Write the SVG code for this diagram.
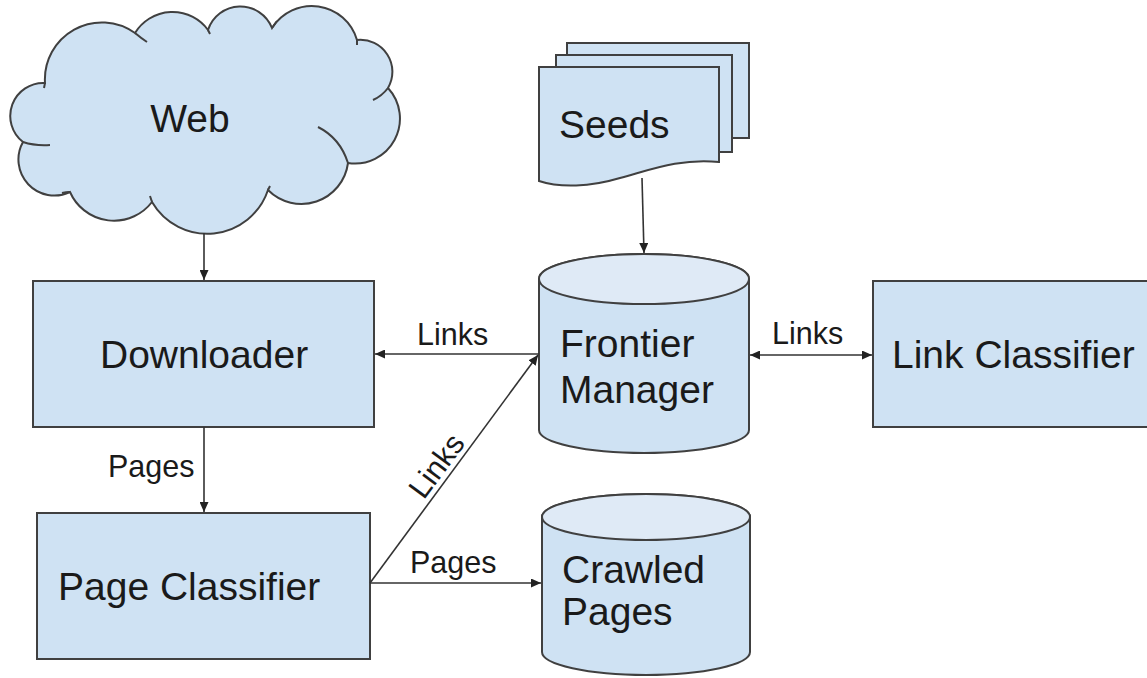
<svg xmlns="http://www.w3.org/2000/svg" width="1147" height="678" viewBox="0 0 1147 678">
<style>
.node{fill:#cfe2f3;stroke:#404040;stroke-width:2}
.cap{fill:#dfeaf6;stroke:#404040;stroke-width:2}
.stub{fill:none;stroke:#404040;stroke-width:2}
.big{font-family:"Liberation Sans",Arial,sans-serif;font-size:39px;fill:#1a1a1a}
.lbl{font-family:"Liberation Sans",Arial,sans-serif;font-size:30.5px;fill:#1a1a1a}
.conn{fill:none;stroke:#333;stroke-width:1.6}
</style>
<defs>
<marker id="arr" markerUnits="userSpaceOnUse" markerWidth="10" markerHeight="9" refX="10" refY="4.5" orient="auto-start-reverse">
<path d="M0,0 L10,4.5 L0,9 z" fill="#222"/>
</marker>
</defs>
<rect width="1147" height="678" fill="#fff"/>

<g id="web">
<path class="node" d="M45,83 A57,57 0 0 1 135,33 A44,44 0 0 1 208,30 A34,34 0 0 1 272,28 A47,47 0 0 1 357,40 A32,32 0 0 1 388,88 A45,45 0 0 1 348,163 A47,47 0 0 1 268,190 A64,64 0 0 1 152,202 A48,48 0 0 1 70,192 A36,36 0 0 1 23,142 A33,33 0 0 1 45,83 Z"/>
<path class="stub" d="M135,33 Q141,38 147,42 M208,30 L210,34 M272,28 Q274,25 277,21 M357,40 L357,45 M388,88 Q382,96 373,100 M348,163 Q340,138 318,127 M268,190 L270,186 M152,202 Q151,199 150,196 M70,192 Q66,192 62,193 M23,142 Q35,146 50,145 M45,83 L44,88"/>
<text class="big" x="190" y="132" text-anchor="middle" font-size="47">Web</text>
</g>

<g id="seeds">
<rect class="node" x="567" y="43" width="182" height="95"/>
<rect class="node" x="556" y="55" width="176" height="97"/>
<path class="node" d="M539,67 H719 V162 C680,158 650,170 620,178 C590,187 560,188 539,181 Z"/>
<text class="big" x="559" y="138">Seeds</text>
</g>

<g id="frontier">
<path class="node" d="M539,279 A105,25 0 0 1 749,279 V430 A105,23 0 0 1 539,430 Z"/>
<ellipse class="cap" cx="644" cy="279" rx="105" ry="25"/>
<text class="big" x="560" y="357">Frontier</text>
<text class="big" x="560" y="403">Manager</text>
</g>

<g id="downloader">
<rect class="node" x="33" y="281" width="341" height="146"/>
<text class="big" x="100" y="368">Downloader</text>
</g>

<g id="link-classifier">
<rect class="node" x="873" y="281" width="290" height="146"/>
<text class="big" x="892" y="368" font-size="36.5">Link Classifier</text>
</g>

<g id="page-classifier">
<rect class="node" x="37" y="513" width="333" height="146"/>
<text class="big" x="58" y="600">Page Classifier</text>
</g>

<g id="crawled">
<path class="node" d="M542,517 A104,23 0 0 1 750,517 V652 A104,23 0 0 1 542,652 Z"/>
<ellipse class="cap" cx="646" cy="517" rx="104" ry="23"/>
<text class="big" x="562" y="583">Crawled</text>
<text class="big" x="562" y="625">Pages</text>
</g>

<g id="connectors">
<path class="conn" d="M204,233 V280" marker-end="url(#arr)"/>
<path class="conn" d="M204,427 V512" marker-end="url(#arr)"/>
<path class="conn" d="M539,354 H375" marker-end="url(#arr)"/>
<path class="conn" d="M370,583 L538,355" marker-end="url(#arr)"/>
<path class="conn" d="M370,583 H541" marker-end="url(#arr)"/>
<path class="conn" d="M750,355 H872" marker-start="url(#arr)" marker-end="url(#arr)"/>
<path class="conn" d="M642,178 L644,253" marker-end="url(#arr)"/>
<text class="lbl" x="108" y="477">Pages</text>
<text class="lbl" x="417" y="345">Links</text>
<text class="lbl" x="772" y="344">Links</text>
<text class="lbl" x="410" y="573">Pages</text>
<text class="lbl" transform="translate(445,472) rotate(-53.5)" x="0" y="0" text-anchor="middle">Links</text>
</g>
</svg>
